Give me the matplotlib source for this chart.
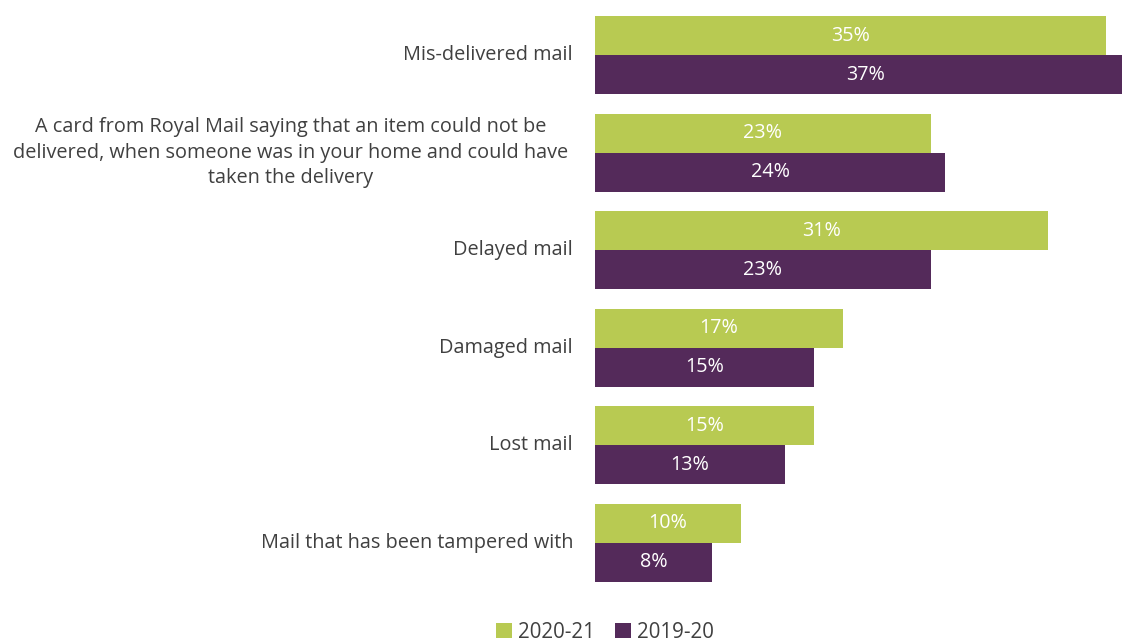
import matplotlib
matplotlib.use("Agg")
import matplotlib.pyplot as plt
import numpy as np

# data
categories = [
    "Mis-delivered mail",
    "A card from Royal Mail saying that an item could not be\ndelivered, when someone was in your home and could have\ntaken the delivery",
    "Delayed mail",
    "Damaged mail",
    "Lost mail",
    "Mail that has been tampered with",
]
vals_2021 = [35, 23, 31, 17, 15, 10]
vals_1920 = [37, 24, 23, 15, 13, 8]
series_names = ["2020-21", "2019-20"]

green = "#b8ca52"
purple = "#542a5a"
text_col = "#404040"

plt.rcParams['font.family'] = ['Open Sans', 'DejaVu Sans']

fig = plt.figure(figsize=(11.22, 6.42), dpi=100)
ax = fig.add_axes([595 / 1122, 60 / 642, 1 - 595 / 1122, 566 / 642])

y = np.arange(len(categories))
h = 0.4
b1 = ax.barh(y - h / 2, vals_2021, height=h, color=green, label=series_names[0])
b2 = ax.barh(y + h / 2, vals_1920, height=h, color=purple, label=series_names[1])

ax.set_xlim(0, 36.1)
ax.set_ylim(5.4, -0.4)

for bars, vals in ((b1, vals_2021), (b2, vals_1920)):
    for rect, v in zip(bars, vals):
        cx = rect.get_x() + v / 2
        ax.text(cx, rect.get_y() + rect.get_height() / 2, f"{v}%",
                ha="center", va="center", color="white", fontsize=14.2)

ax.set_yticks([])
ax.set_xticks([])
for s in ax.spines.values():
    s.set_visible(False)

for i, lab in enumerate(categories):
    x = -22 / 14.6 if i != 1 else -27 / 14.6
    ax.text(x, i, lab, ha="right", va="center", multialignment="center",
            color=text_col, fontsize=14.3, linespacing=1.38)

fig.legend(handles=[b1, b2], labels=series_names, loc="center",
           bbox_to_anchor=(605 / 1122, 10 / 642), ncol=2, frameon=False,
           fontsize=14.8, handlelength=0.75, handleheight=0.75, handletextpad=0.3,
           columnspacing=1.0, labelcolor=text_col)

fig.savefig("out.png", dpi=100)
